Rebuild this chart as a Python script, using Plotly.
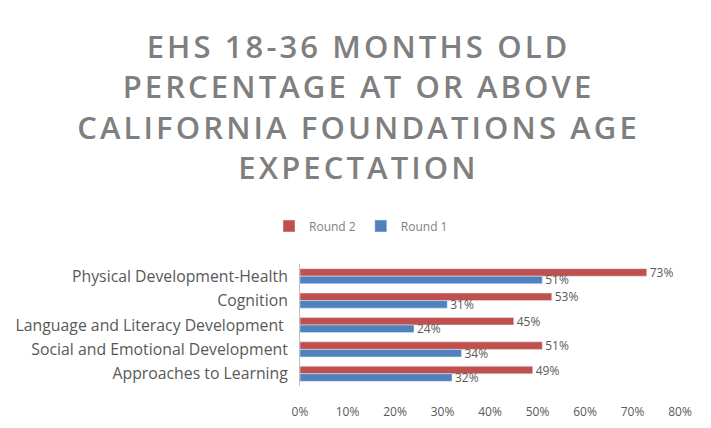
import plotly.graph_objects as go

categories = ["Physical Development-Health", "Cognition", "Language and Literacy Development ",
              "Social and Emotional Development", "Approaches to Learning"]
round2 = [0.73, 0.53, 0.45, 0.51, 0.49]
round1 = [0.51, 0.31, 0.24, 0.34, 0.32]
xticks = [0, 0.1, 0.2, 0.3, 0.4, 0.5, 0.6, 0.7, 0.8]
title_lines = ["EHS 18-36 MONTHS OLD", "PERCENTAGE AT OR ABOVE",
               "CALIFORNIA FOUNDATIONS AGE", "EXPECTATION"]

def spaced(s):
    return "\u200a".join(s)

title_text = "<br>".join(spaced(t) for t in title_lines)

OFF = 8  # page body margin offset
W, H = 711, 428
L, R, T, B = 300 - OFF, W - (680 - OFF), 264 - OFF, H - (386 - OFF)
ph = H - T - B
pw = W - L - R

fig = go.Figure()
fig.add_trace(go.Bar(y=categories, x=round2, name="Round 2", orientation="h",
                     marker_color="#C0504D", text=[f"{v:.0%}" for v in round2],
                     textposition="outside", cliponaxis=False, constraintext="none",
                     textfont=dict(color="#595959", size=12)))
fig.add_trace(go.Bar(y=categories, x=round1, name="Round 1", orientation="h",
                     marker_color="#4F81BD", text=[f"{v:.0%}" for v in round1],
                     textposition="outside", cliponaxis=False, constraintext="none",
                     textfont=dict(color="#595959", size=12)))

fig.update_layout(
    width=W, height=H,
    paper_bgcolor="white", plot_bgcolor="white",
    margin=dict(l=L, r=R, t=T, b=B, autoexpand=False),
    barmode="group", bargap=0.38, bargroupgap=0,
    font=dict(family="Open Sans, Lato, sans-serif", color="#595959", size=12),
    title=dict(text=title_text,
               x=(357 - OFF) / W, xanchor="center", xref="container",
               y=1 - 50 / H, yanchor="top", yref="container",
               font=dict(size=31, color="#7F7F7F", family="Open Sans, sans-serif", weight=600)),
    legend=dict(orientation="h", traceorder="normal",
                x=(361 - OFF - L) / pw, xanchor="center",
                y=(H - B - (226 - OFF)) / ph, yanchor="middle",
                font=dict(size=12, color="#7F7F7F")),
    showlegend=True,
)
fig.update_xaxes(range=[0, 0.8], tickvals=xticks, tickformat=".0%", showgrid=False,
                 zeroline=False, showline=False, ticks="outside", ticklen=15,
                 tickcolor="rgba(0,0,0,0)", tickfont=dict(size=12, color="#595959"),
                 automargin=False)
fig.update_yaxes(autorange="reversed", showgrid=False, showline=True, linecolor="#BFBFBF",
                 ticks="outside", ticklen=8, tickcolor="rgba(0,0,0,0)",
                 tickfont=dict(size=15.8, color="#595959"), automargin=False)

fig.write_html("out.html")
